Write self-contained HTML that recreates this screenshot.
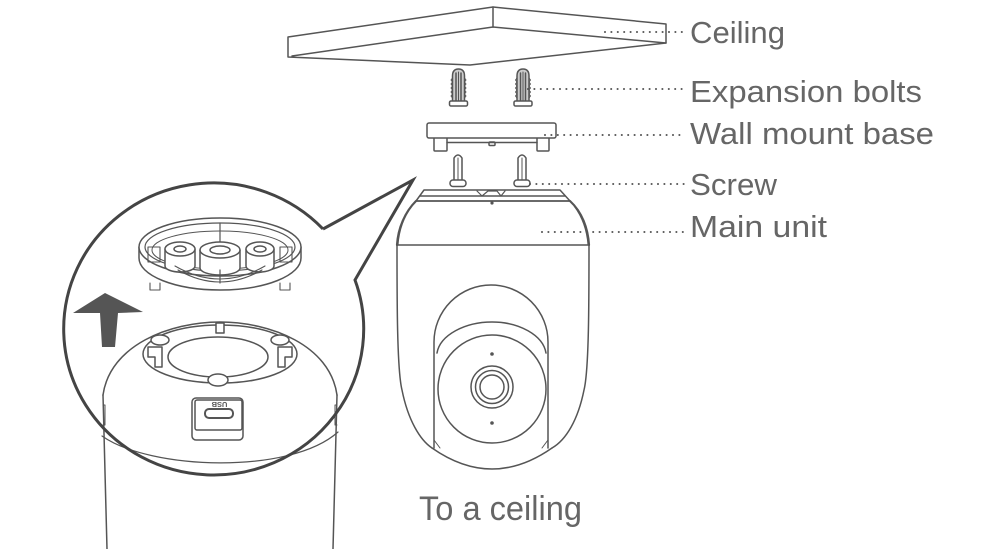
<!DOCTYPE html>
<html><head><meta charset="utf-8"><style>
html,body{margin:0;padding:0;background:#fff;}
svg{display:block;}
text{font-family:"Liberation Sans",sans-serif;fill:#666;}
</style></head><body>
<svg width="992" height="549" viewBox="0 0 992 549" xmlns="http://www.w3.org/2000/svg">
<g fill="none" stroke="#555" stroke-width="1.5" stroke-linejoin="round" stroke-linecap="round">
  <!-- Ceiling slab -->
  <polygon points="288,37 493,7 666,24 666,43 470,65 288,57" fill="#fff"/>
  <line x1="493" y1="7" x2="493" y2="27"/>
  <line x1="292" y1="56" x2="493" y2="27"/>
  <line x1="493" y1="27" x2="666" y2="43"/>

  <!-- Expansion bolts -->
  <g id="anc">
    <path d="M452.5,102 L452.5,76 Q452.5,69 458.5,69 Q464.5,69 464.5,76 L464.5,102 Z" fill="#ccc"/>
    <line x1="456" y1="73" x2="456" y2="101"/>
    <line x1="461" y1="73" x2="461" y2="101"/>
    <line x1="458.5" y1="72" x2="458.5" y2="101" stroke-width="1"/>
    <path d="M452.5,78 l-1.5,2 l1.5,2 l-1.5,2 l1.5,2 l-1.5,2 l1.5,2 l-1.5,2 l1.5,2 l-1.5,2 l1.5,2" stroke-width="1"/>
    <path d="M464.5,78 l1.5,2 l-1.5,2 l1.5,2 l-1.5,2 l1.5,2 l-1.5,2 l1.5,2 l-1.5,2 l1.5,2 l-1.5,2" stroke-width="1"/>
    <rect x="449.5" y="101" width="18" height="5" rx="1.5" fill="#fff"/>
  </g>
  <use href="#anc" x="64.5" y="0"/>

  <!-- Wall mount base -->
  <rect x="434" y="137" width="13" height="14" rx="1" fill="#fff"/>
  <rect x="537" y="137" width="12" height="14" rx="1" fill="#fff"/>
  <line x1="447" y1="142.5" x2="537" y2="142.5"/>
  <rect x="489" y="142" width="6" height="3.5" rx="1"/>
  <rect x="427" y="123" width="129" height="15" rx="2" fill="#fff"/>

  <!-- Screws -->
  <g id="scr">
    <path d="M454,181 L454,158 Q458,152 462,158 L462,181 Z" fill="#fff"/>
    <line x1="458" y1="158" x2="458" y2="180" stroke-width="1"/>
    <rect x="450" y="180" width="16" height="6.5" rx="3" fill="#fff"/>
  </g>
  <use href="#scr" x="64" y="0"/>

  <!-- Main unit -->
  <path d="M416,201 L424,190 L560,190 L570,201 Z" fill="#fff"/>
  <line x1="420" y1="196" x2="565" y2="196"/>
  <path d="M477,191 L482,196 M505,191 L501,196 M482,196 L488,191 L497,191 L501,196" stroke-width="1.2"/>
  <circle cx="492" cy="203" r="1.6" fill="#555" stroke="none"/>
  <path d="M416,201 C405,212 398,228 397,245" stroke-width="2.2"/>
  <path d="M570,201 C582,212 588,228 589,245" stroke-width="2.2"/>
  <path d="M412,206 C403,218 399,232 398,245" stroke-width="1"/>
  <path d="M574,206 C583,218 587,232 588,245" stroke-width="1"/>
  <line x1="416" y1="201" x2="570" y2="201"/>
  <line x1="397" y1="245" x2="589" y2="245"/>
  <path d="M397,245 C397,300 397,370 402,390 C408,420 420,440 432,448"/>
  <path d="M589,245 C589,300 589,370 584,390 C578,420 566,440 552,448"/>
  <path d="M432,448 Q492,490 552,448"/>
  <path d="M434,448 L434,342 A57,57 0 0 1 548,342 L548,448"/>
  <path d="M434,440 L440,448 M548,440 L542,448" stroke-width="1"/>
  <path d="M437,353 C440,335 465,322 492,322 C519,322 543,335 546,353"/>
  <circle cx="492" cy="389" r="54" fill="#fff"/>
  <circle cx="492" cy="387" r="21"/>
  <circle cx="492" cy="387" r="16.5"/>
  <circle cx="492" cy="387" r="12"/>
  <circle cx="492" cy="354" r="1.8" fill="#555" stroke="none"/>
  <circle cx="492" cy="423" r="1.8" fill="#555" stroke="none"/>

  <!-- Cylinder (camera bottom, zoomed) -->
  <path d="M103,395 L107,549"/>
  <path d="M337,395 L333,549"/>
  <path d="M102,436 C150,470 290,475 338,432" stroke-width="1.2"/>
  <path d="M103,395 C110,345 170,322 220,322 C270,322 330,345 337,395"/>
  <path d="M103,405 l2,0 l0,20 l-2,0 M337,405 l-2,0 l0,20 l2,0" stroke-width="1"/>
  <ellipse cx="220" cy="354" rx="77" ry="29"/>
  <ellipse cx="218" cy="357" rx="50" ry="20"/>
  <rect x="216" y="323" width="8" height="10" fill="#fff"/>
  <ellipse cx="160" cy="340" rx="9" ry="5" fill="#fff"/>
  <ellipse cx="280" cy="340" rx="9" ry="5" fill="#fff"/>
  <ellipse cx="218" cy="380" rx="10" ry="6" fill="#fff"/>
  <path d="M148,347 L162,347 L162,367 L155,367 L155,357 L148,357 Z" fill="#fff"/>
  <path d="M292,347 L278,347 L278,367 L285,367 L285,357 L292,357 Z" fill="#fff"/>
  <rect x="192" y="398" width="51" height="42" rx="4" fill="#fff"/>
  <rect x="195" y="400" width="47" height="30" rx="2"/>
  <rect x="205" y="409" width="28" height="9" rx="4" stroke-width="2"/>

  <!-- Wall mount base (zoomed) -->
  <path d="M139,247 L139,258 A81,32 0 0 0 301,258 L301,247" fill="#fff"/>
  <ellipse cx="220" cy="247" rx="81" ry="29" fill="#fff"/>
  <ellipse cx="220" cy="247" rx="75" ry="24" stroke-width="1.2"/>
  <ellipse cx="220" cy="250" rx="68" ry="19" stroke-width="1"/>
  <path d="M148,247 l12,0 l0,15 l-12,0 Z M292,247 l-12,0 l0,15 l12,0 Z" stroke-width="1.1"/>
  <path d="M150,283 l0,7 l10,0 l0,-7 M280,283 l0,7 l10,0 l0,-7" stroke-width="1.1"/>
  <line x1="220" y1="223" x2="220" y2="242" stroke-width="1.2"/>
  <g fill="#fff">
    <path d="M165,249 L165,266 A15,6 0 0 0 195,266 L195,249"/>
    <ellipse cx="180" cy="249" rx="15" ry="7"/>
    <ellipse cx="180" cy="249" rx="6" ry="3"/>
    <path d="M246,249 L246,266 A14,6 0 0 0 274,266 L274,249"/>
    <ellipse cx="260" cy="249" rx="14" ry="7"/>
    <ellipse cx="260" cy="249" rx="6" ry="3"/>
    <path d="M200,250 L200,268 A20,7 0 0 0 240,268 L240,250"/>
    <ellipse cx="220" cy="250" rx="20" ry="8"/>
    <ellipse cx="220" cy="250" rx="10" ry="4"/>
  </g>
  <path d="M175,266 Q220,292 265,266 M178,270 Q220,294 262,270" stroke-width="1.1"/>
  <line x1="220" y1="270" x2="220" y2="283" stroke-width="1.2"/>
</g>

<!-- USB text upside down -->
<text x="0" y="0" font-size="7.5" font-weight="bold" text-anchor="middle" transform="translate(219.5,402) rotate(180)" style="fill:#555">USB</text>

<!-- Arrow -->
<polygon points="105,293 143,312 118,313 115,347 102,347 100,313 73,313" fill="#555"/>

<!-- Magnifier outline with pointer -->
<path d="M323,229 L413,180 L355,280 A150,146 0 1 1 323,229" fill="none" stroke="#444" stroke-width="3" stroke-linejoin="miter"/>

<!-- Leaders -->
<g stroke="#555" stroke-width="2.1" stroke-linecap="round" stroke-dasharray="0 6.4" fill="none">
  <line x1="605" y1="32" x2="684" y2="32"/>
  <line x1="528" y1="89" x2="684" y2="89"/>
  <line x1="545" y1="135" x2="684" y2="135"/>
  <line x1="530" y1="184" x2="684" y2="184"/>
  <line x1="542" y1="232" x2="684" y2="232"/>
</g>

<!-- Labels -->
<text x="690" y="43" font-size="31" textLength="95" lengthAdjust="spacingAndGlyphs">Ceiling</text>
<text x="690" y="102" font-size="31" textLength="232" lengthAdjust="spacingAndGlyphs">Expansion bolts</text>
<text x="690" y="144" font-size="31" textLength="244" lengthAdjust="spacingAndGlyphs">Wall mount base</text>
<text x="690" y="195" font-size="31" textLength="87" lengthAdjust="spacingAndGlyphs">Screw</text>
<text x="690" y="237" font-size="31" textLength="137" lengthAdjust="spacingAndGlyphs">Main unit</text>
<text x="419" y="520" font-size="34" textLength="163" lengthAdjust="spacingAndGlyphs">To a ceiling</text>
</svg>
</body></html>
